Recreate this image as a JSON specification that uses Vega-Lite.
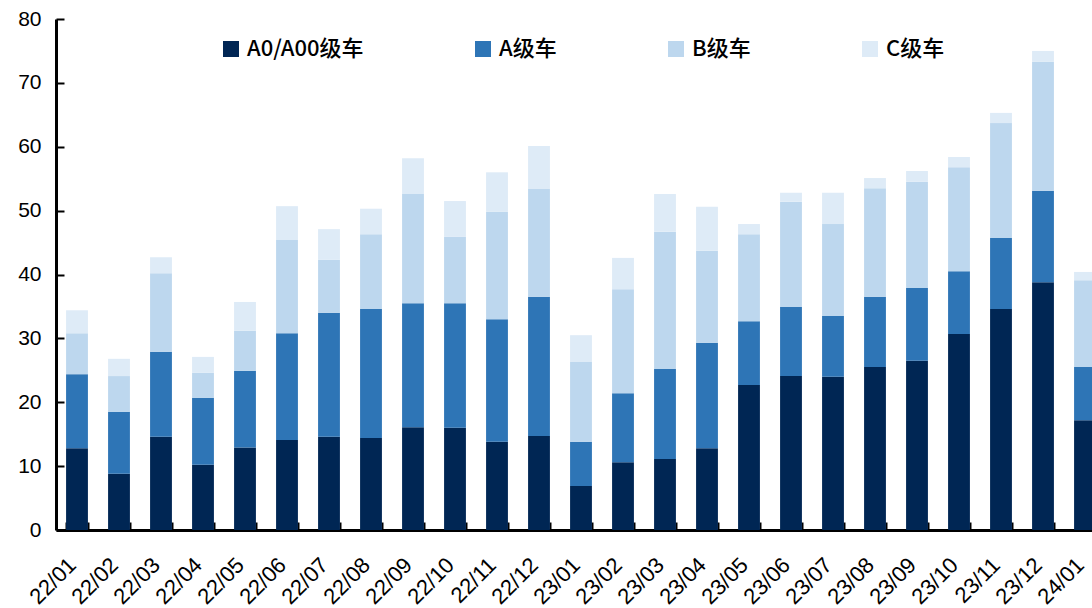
{
  "$schema": "https://vega.github.io/schema/vega-lite/v6.json",
  "autosize": {"type": "none"},
  "padding": {"left": 56, "top": 19, "right": 0, "bottom": 78},
  "width": 1036,
  "height": 511,
  "background": "white",
  "config": {"view": {"stroke": null}},
  "data": {"values": [
    {"m": "22/01", "A0/A00级车": 12.8, "A级车": 11.6, "B级车": 6.4, "C级车": 3.6},
    {"m": "22/02", "A0/A00级车": 8.8, "A级车": 9.7, "B级车": 5.6, "C级车": 2.7},
    {"m": "22/03", "A0/A00级车": 14.6, "A级车": 13.3, "B级车": 12.3, "C级车": 2.5},
    {"m": "22/04", "A0/A00级车": 10.2, "A级车": 10.5, "B级车": 3.9, "C级车": 2.5},
    {"m": "22/05", "A0/A00级车": 12.9, "A级车": 12.0, "B级车": 6.3, "C级车": 4.5},
    {"m": "22/06", "A0/A00级车": 14.1, "A级车": 16.7, "B级车": 14.6, "C级车": 5.3},
    {"m": "22/07", "A0/A00级车": 14.6, "A级车": 19.4, "B级车": 8.3, "C级车": 4.8},
    {"m": "22/08", "A0/A00级车": 14.4, "A级车": 20.2, "B级车": 11.7, "C级车": 4.0},
    {"m": "22/09", "A0/A00级车": 16.1, "A级车": 19.4, "B级车": 17.1, "C级车": 5.6},
    {"m": "22/10", "A0/A00级车": 16.0, "A级车": 19.5, "B级车": 10.4, "C级车": 5.6},
    {"m": "22/11", "A0/A00级车": 13.8, "A级车": 19.2, "B级车": 16.8, "C级车": 6.2},
    {"m": "22/12", "A0/A00级车": 14.7, "A级车": 21.8, "B级车": 16.9, "C级车": 6.7},
    {"m": "23/01", "A0/A00级车": 6.9, "A级车": 6.9, "B级车": 12.5, "C级车": 4.2},
    {"m": "23/02", "A0/A00级车": 10.6, "A级车": 10.8, "B级车": 16.3, "C级车": 4.9},
    {"m": "23/03", "A0/A00级车": 11.1, "A级车": 14.1, "B级车": 21.5, "C级车": 5.9},
    {"m": "23/04", "A0/A00级车": 12.8, "A级车": 16.5, "B级车": 14.4, "C级车": 6.9},
    {"m": "23/05", "A0/A00级车": 22.7, "A级车": 10.0, "B级车": 13.6, "C级车": 1.6},
    {"m": "23/06", "A0/A00级车": 24.1, "A级车": 10.8, "B级车": 16.5, "C级车": 1.4},
    {"m": "23/07", "A0/A00级车": 24.0, "A级车": 9.5, "B级车": 14.4, "C级车": 4.9},
    {"m": "23/08", "A0/A00级车": 25.5, "A级车": 11.0, "B级车": 17.0, "C级车": 1.6},
    {"m": "23/09", "A0/A00级车": 26.5, "A级车": 11.4, "B级车": 16.6, "C级车": 1.7},
    {"m": "23/10", "A0/A00级车": 30.7, "A级车": 9.8, "B级车": 16.3, "C级车": 1.6},
    {"m": "23/11", "A0/A00级车": 34.6, "A级车": 11.1, "B级车": 18.0, "C级车": 1.6},
    {"m": "23/12", "A0/A00级车": 38.8, "A级车": 14.3, "B级车": 20.2, "C级车": 1.7},
    {"m": "24/01", "A0/A00级车": 17.2, "A级车": 8.3, "B级车": 13.6, "C级车": 1.3}
  ]},
  "transform": [
    {"fold": ["A0/A00级车", "A级车", "B级车", "C级车"], "as": ["t", "v"]}
  ],
  "mark": {"type": "bar"},
  "encoding": {
    "x": {
      "field": "m", "type": "ordinal", "sort": null,
      "scale": {"range": [0, 1050], "paddingInner": 0.48, "paddingOuter": 0.24},
      "axis": {
        "title": null,
        "tickBand": "extent",
        "domainColor": "black", "domainWidth": 3,
        "tickColor": "black", "tickWidth": 2, "tickSize": -8,
        "labelAngle": -45, "labelAlign": "right", "labelBaseline": "alphabetic",
        "labelPadding": 44, "labelOverlap": false,
        "labelFont": "Liberation Sans", "labelFontSize": 22, "labelColor": "black"
      }
    },
    "y": {
      "field": "v", "type": "quantitative", "stack": "zero",
      "scale": {"domain": [0, 80], "nice": false},
      "axis": {
        "title": null, "grid": false,
        "values": [0, 10, 20, 30, 40, 50, 60, 70, 80],
        "domainColor": "black", "domainWidth": 3,
        "tickColor": "black", "tickWidth": 2, "tickSize": -8,
        "labelPadding": 23,
        "labelFont": "Liberation Sans", "labelFontSize": 21, "labelColor": "black"
      }
    },
    "color": {
      "field": "t", "type": "nominal",
      "scale": {
        "domain": ["A0/A00级车", "A级车", "B级车", "C级车"],
        "range": ["#002654", "#2E75B6", "#BDD7EE", "#DEEBF7"]
      },
      "legend": {
        "title": null, "orient": "none", "legendX": 164, "legendY": 19,
        "direction": "horizontal", "columns": 4,
        "symbolType": "square", "symbolSize": 256, "symbolStrokeWidth": 0,
        "labelFont": "Noto Sans CJK SC", "labelFontSize": 22, "labelFontWeight": 500, "labelColor": "black",
        "labelOffset": 5, "columnPadding": 108
      }
    },
    "order": {"field": "t", "sort": "ascending"}
  }
}
